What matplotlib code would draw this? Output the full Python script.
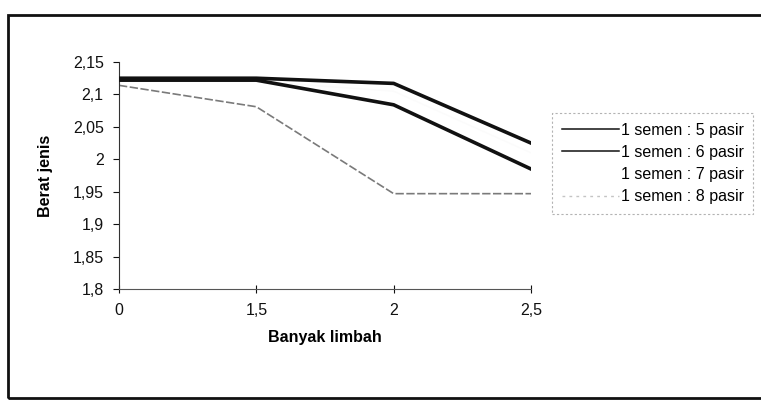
import matplotlib
matplotlib.use("Agg")
import matplotlib.pyplot as plt
from matplotlib.patches import Rectangle
from matplotlib.lines import Line2D

plt.rcParams['font.family'] = ['Liberation Sans', 'DejaVu Sans']

categories = ["0", "1,5", "2", "2,5"]
series_names = ["1 semen : 5 pasir", "1 semen : 6 pasir", "1 semen : 7 pasir", "1 semen : 8 pasir"]
s5 = [2.125, 2.125, 2.117, 2.025]
s6 = [2.122, 2.122, 2.084, 1.985]
s7 = [2.120, 2.120, 2.105, 2.010]
s8 = [2.114, 2.081, 1.947, 1.947]
y_ticks = [1.8, 1.85, 1.9, 1.95, 2.0, 2.05, 2.1, 2.15]
y_tick_labels = ["1,8", "1,85", "1,9", "1,95", "2", "2,05", "2,1", "2,15"]

W, H = 761, 403
fig = plt.figure(figsize=(W / 100, H / 100), dpi=100)
ax = fig.add_axes([119 / W, 1 - 289 / H, (531 - 119) / W, (289 - 62) / H])

x = list(range(len(categories)))
ax.plot(x, s7, color="#fbfbfb", lw=1.0, zorder=1)
ax.plot(x, s8, color="#7a7a7a", lw=1.2, ls=(0, (5, 1.5)), zorder=2)
ax.plot(x, s6, color="#111111", lw=2.6, zorder=3)
ax.plot(x, s5, color="#111111", lw=2.6, zorder=4)

ax.set_xlim(0, len(categories) - 1)
ax.set_ylim(1.8, 2.15)
ax.set_xticks(x)
ax.set_xticklabels(categories)
ax.set_yticks(y_ticks)
ax.set_yticklabels(y_tick_labels)

for s in ["top", "right"]:
    ax.spines[s].set_visible(False)
ax.spines["left"].set_color("#333333")
ax.spines["bottom"].set_color("#555555")
ax.spines["left"].set_linewidth(0.8)
ax.spines["bottom"].set_linewidth(0.8)
ax.tick_params(axis="y", direction="out", length=4, width=0.8, labelsize=11.5, pad=7, colors="#111111")
ax.tick_params(axis="x", direction="inout", length=6, width=0.8, labelsize=11.5, pad=7, colors="#111111")

ax.set_ylabel("Berat jenis", fontsize=11.5, fontweight="bold", labelpad=14)
ax.set_xlabel("Banyak limbah", fontsize=11.5, fontweight="bold", labelpad=9)

handles = [
    Line2D([], [], color="#111111", lw=1.1),
    Line2D([], [], color="#111111", lw=1.1),
    Line2D([], [], color="#ffffff", lw=1.0),
    Line2D([], [], color="#c4c4c4", lw=1.0, ls=(0, (2, 3))),
]
leg = fig.legend(handles, series_names, loc="upper left",
                 bbox_to_anchor=(552 / W, 1 - 113 / H), fontsize=11.5,
                 frameon=True, fancybox=False, handlelength=3.6, handletextpad=0.1,
                 labelspacing=0.45, borderpad=0.6, borderaxespad=0)
fr = leg.get_frame()
fr.set_edgecolor("#a0a0a0")
fr.set_linestyle((0, (2, 2)))
fr.set_linewidth(0.8)

fig.patches.append(Rectangle((8 / W, 1 - 398 / H), (W + 10) / W, (398 - 15) / H,
                             transform=fig.transFigure, fill=False,
                             edgecolor="#111111", lw=2.0))

fig.savefig("out.png", dpi=100)
